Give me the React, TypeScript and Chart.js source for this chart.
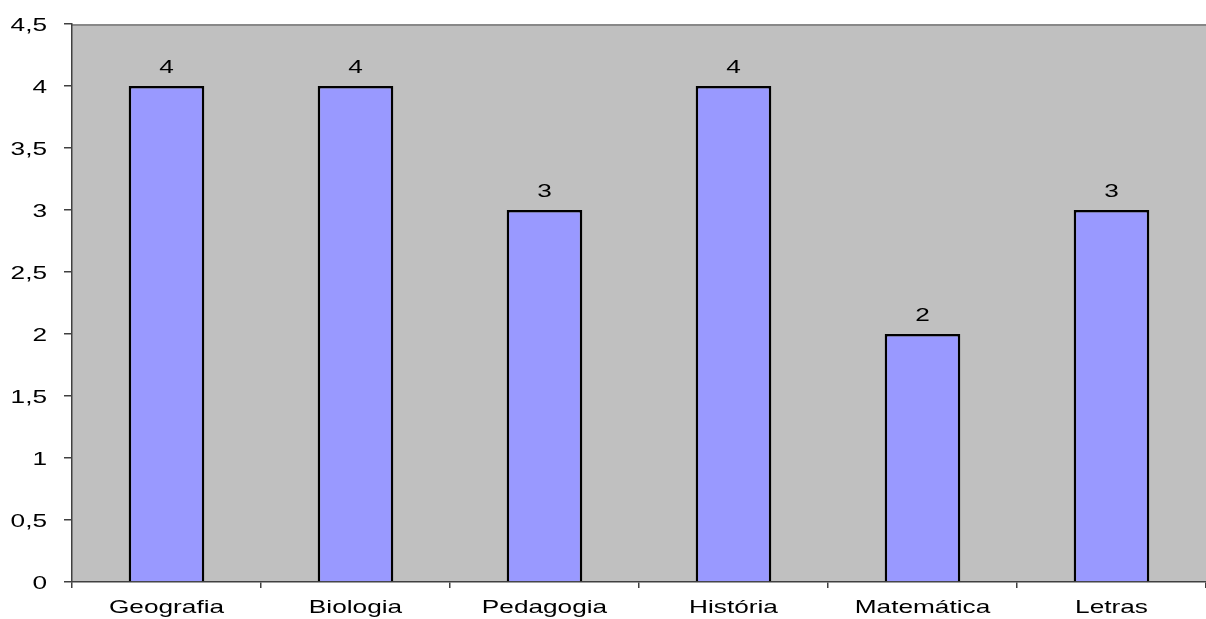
import React, { useEffect, useRef } from "react";
import { Chart, registerables } from "chart.js";

Chart.register(...registerables);

const categories = ["Geografia", "Biologia", "Pedagogia", "História", "Matemática", "Letras"];
const values = [4, 4, 3, 4, 2, 3];
const yTickLabels = ["0", "0,5", "1", "1,5", "2", "2,5", "3", "3,5", "4", "4,5"];

const FONT = "'Liberation Sans', Arial, sans-serif";
const FONT_SIZE = 19;
const STRETCH = 1.38;

function drawWide(ctx: any, text: string, x: number, y: number, align: string) {
  ctx.save();
  ctx.translate(x, y);
  ctx.scale(STRETCH, 1);
  ctx.textAlign = align;
  ctx.textBaseline = "alphabetic";
  ctx.fillText(text, 0, 0);
  ctx.restore();
}

const bgPlugin = {
  id: "bgPlugin",
  beforeDraw(chart: any) {
    const ctx = chart.ctx;
    const { left, top, right, bottom } = chart.chartArea;
    ctx.save();
    ctx.fillStyle = "#c0c0c0";
    ctx.fillRect(left, top, right - left, bottom - top);
    ctx.strokeStyle = "#888888";
    ctx.lineWidth = 2;
    ctx.beginPath();
    ctx.moveTo(left, top + 1);
    ctx.lineTo(right, top + 1);
    ctx.stroke();
    ctx.restore();
  },
  afterDraw(chart: any) {
    const ctx = chart.ctx;
    ctx.save();
    ctx.fillStyle = "#000";
    ctx.font = `${FONT_SIZE}px ${FONT}`;
    // data labels
    const meta = chart.getDatasetMeta(0);
    meta.data.forEach((bar: any, i: number) => {
      drawWide(ctx, String(chart.data.datasets[0].data[i]), bar.x, bar.y - 13, "center");
    });
    // x tick labels
    const xs = chart.scales.x;
    xs.ticks.forEach((_t: any, i: number) => {
      const label = chart.data.labels[i];
      drawWide(ctx, String(label), xs.getPixelForTick(i), xs.top + 31, "center");
    });
    // y tick labels
    const ys = chart.scales.y;
    ys.ticks.forEach((_t: any, i: number) => {
      drawWide(ctx, yTickLabels[i], ys.right - 25, ys.getPixelForTick(i) + 6.5, "right");
    });
    ctx.restore();
  },
};

export default function App() {
  const ref = useRef<HTMLCanvasElement>(null);
  useEffect(() => {
    if (!ref.current) return;
    const chart = new Chart(ref.current, {
      type: "bar",
      data: {
        labels: categories,
        datasets: [
          {
            data: values,
            backgroundColor: "#9999FF",
            borderColor: "#000000",
            borderWidth: 2.5,
            barPercentage: 0.4,
            categoryPercentage: 1,
          },
        ],
      },
      options: {
        responsive: false,
        animation: false,
        layout: { padding: { top: 24, right: 0, left: 0, bottom: 0 } },
        plugins: { legend: { display: false }, tooltip: { enabled: false } },
        scales: {
          x: {
            offset: true,
            grid: {
              display: true,
              drawOnChartArea: false,
              drawTicks: true,
              tickLength: 6,
              color: "#404040",
              lineWidth: 1.5,
              offset: true,
            },
            border: { display: true, color: "#404040", width: 1.5 },
            ticks: {
              color: "rgba(0,0,0,0)",
              font: { family: FONT, size: FONT_SIZE },
              padding: 9,
              maxRotation: 0,
              autoSkip: false,
            },
            afterFit: (s: any) => {
              s.height = 37;
              s.paddingLeft = 0;
              s.paddingRight = 0;
            },
          },
          y: {
            min: 0,
            max: 4.5,
            grid: {
              display: true,
              drawOnChartArea: false,
              drawTicks: true,
              tickLength: 8,
              color: "#404040",
              lineWidth: 1.5,
            },
            border: { display: true, color: "#404040", width: 1.5 },
            ticks: {
              stepSize: 0.5,
              color: "rgba(0,0,0,0)",
              font: { family: FONT, size: FONT_SIZE },
              padding: 14,
              callback: (_v: any, i: number) => yTickLabels[i],
            },
            afterFit: (s: any) => {
              s.width = 72;
              s.paddingTop = 0;
              s.paddingBottom = 0;
            },
          },
        },
      },
      plugins: [bgPlugin],
    });
    return () => chart.destroy();
  }, []);
  return (
    <div style={{ position: "absolute", left: 0, top: 0, width: 1206, height: 619 }}>
      <canvas ref={ref} width={1206} height={619} />
    </div>
  );
}
